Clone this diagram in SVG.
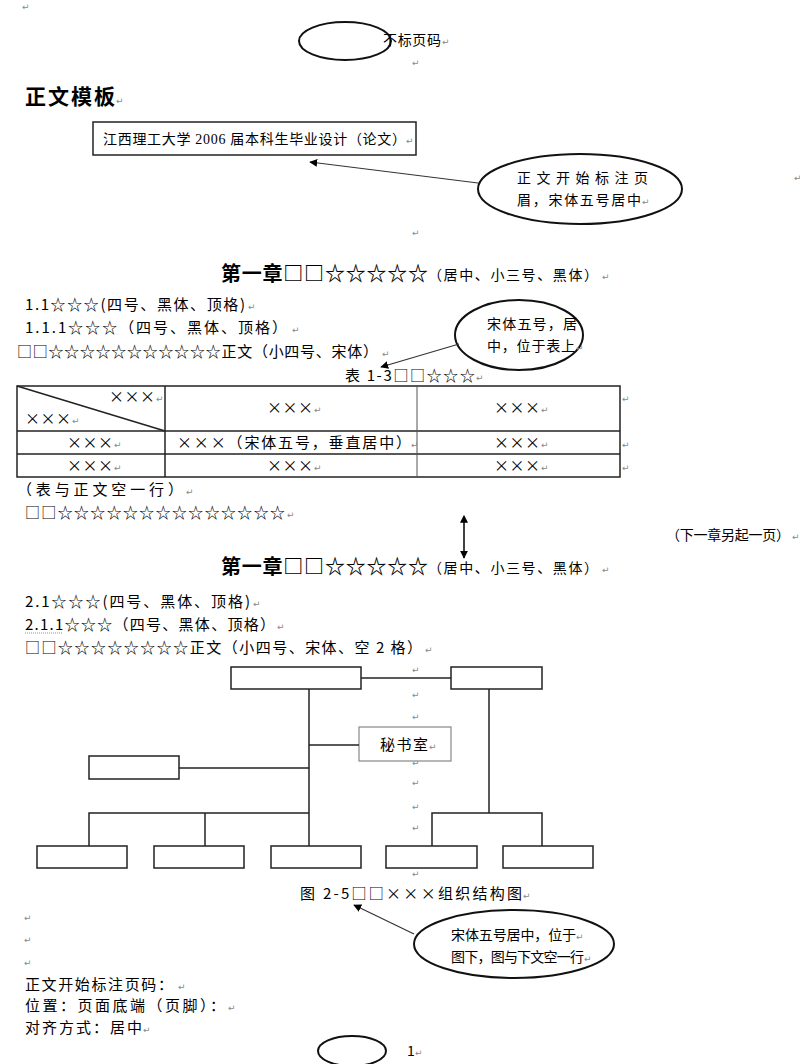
<svg xmlns="http://www.w3.org/2000/svg" width="800" height="1064" viewBox="0 0 800 1064">
<style>
.t{font-family:"Noto Sans CJK SC","Liberation Sans",sans-serif;font-size:15px;fill:#000}
.s{font-family:"Noto Sans CJK SC","Liberation Sans",sans-serif;font-size:14px;fill:#000}
.hd{font-family:"Liberation Serif","Noto Sans CJK SC",serif;font-size:14px;fill:#000}
.x{font-family:"Noto Sans CJK SC","Liberation Sans",sans-serif;font-size:15px;fill:#000}
.h{font-family:"Noto Sans CJK SC",sans-serif;font-weight:bold;fill:#000}
.pm{font-family:"DejaVu Sans",sans-serif;font-size:9px;fill:#888}
.box{fill:#fff;stroke:#222;stroke-width:1.5}
.gbox{fill:#fff;stroke:#888;stroke-width:1.2}
.ell{fill:#fff;stroke:#111;stroke-width:2}
.ln{stroke:#222;stroke-width:1.5;fill:none}
.arr{stroke:#333;stroke-width:1.2;fill:none;marker-end:url(#ah)}
.tb{stroke:#222;stroke-width:1.5;fill:none}
.tc{stroke:#555;stroke-width:1;fill:none}
</style>
<defs>
<marker id="ah" viewBox="0 0 10 10" refX="9" refY="5" markerWidth="8" markerHeight="8" orient="auto" markerUnits="userSpaceOnUse"><path d="M0,0 L10,5 L0,10 z" fill="#000"/></marker>
<marker id="ahs" viewBox="0 0 10 10" refX="1" refY="5" markerWidth="8" markerHeight="8" orient="auto-start-reverse" markerUnits="userSpaceOnUse"><path d="M0,0 L10,5 L0,10 z" fill="#000"/></marker>
</defs>
<rect width="800" height="1064" fill="#fff"/>

<!-- paragraph marks -->
<g id="marks">
<text class="pm" x="22" y="10">↵</text>
<text class="pm" x="412" y="66">↵</text>
<text class="pm" x="412" y="236">↵</text>
<text class="pm" x="794" y="181">↵</text>
<text class="pm" x="412" y="673">↵</text>
<text class="pm" x="412" y="698">↵</text>
<text class="pm" x="412" y="720">↵</text>
<text class="pm" x="412" y="766">↵</text>
<text class="pm" x="412" y="786">↵</text>
<text class="pm" x="412" y="810">↵</text>
<text class="pm" x="412" y="831">↵</text>
<text class="pm" x="412" y="877">↵</text>
<text class="pm" x="24" y="921">↵</text>
<text class="pm" x="24" y="943">↵</text>
<text class="pm" x="24" y="966">↵</text>
</g>

<!-- top: no page number -->
<g id="nopage">
<ellipse class="ell" cx="345" cy="41" rx="46" ry="19"/>
<text class="s" x="383" y="45" textLength="58" lengthAdjust="spacing">不标页码</text>
<text class="pm" x="442" y="45">↵</text>
</g>

<text class="h" x="25" y="104" font-size="21" textLength="90" lengthAdjust="spacing">正文模板</text>
<text class="pm" x="116" y="104">↵</text>

<g id="header-box">
<rect class="box" x="93" y="122" width="323" height="33"/>
<text class="hd" x="103" y="144" textLength="303" lengthAdjust="spacing">江西理工大学 2006 届本科生毕业设计（论文）</text>
<text class="pm" x="406" y="144">↵</text>
</g>

<g id="callout-header">
<ellipse class="ell" cx="580" cy="189" rx="102" ry="35"/>
<text class="s" x="517" y="183" textLength="131" lengthAdjust="spacing">正文开始标注页</text>
<text class="s" x="517" y="205" textLength="124" lengthAdjust="spacing">眉，宋体五号居中</text>
<text class="pm" x="642" y="205">↵</text>
</g>

<!-- chapter 1 -->
<g id="chapter1">
<text class="h" x="221" y="281" font-size="20" textLength="207" lengthAdjust="spacing">第一章□□☆☆☆☆☆</text>
<text class="s" x="428" y="280" font-size="13" textLength="170" lengthAdjust="spacing">（居中、小三号、黑体）</text>
<text class="pm" x="602" y="280">↵</text>
<text class="t" x="25" y="310" textLength="220" lengthAdjust="spacing">1.1☆☆☆(四号、黑体、顶格)</text>
<text class="pm" x="248" y="310">↵</text>
<text class="t" x="25" y="333" textLength="262" lengthAdjust="spacing">1.1.1☆☆☆（四号、黑体、顶格）</text>
<text class="pm" x="292" y="333">↵</text>
<text class="t" x="17" y="357" textLength="361" lengthAdjust="spacing">□□☆☆☆☆☆☆☆☆☆☆☆正文（小四号、宋体）</text>
<text class="pm" x="382" y="357">↵</text>
<text class="t" x="345" y="381" textLength="130" lengthAdjust="spacing">表 1-3□□☆☆☆</text>
<text class="pm" x="476" y="381">↵</text>
</g>

<g id="callout-table">
<ellipse class="ell" cx="519" cy="335" rx="64" ry="35"/>
<text class="s" x="487" y="329" textLength="90" lengthAdjust="spacing">宋体五号，居</text>
<text class="s" x="487" y="351" textLength="88" lengthAdjust="spacing">中，位于表上</text>
<text class="pm" x="576" y="351">↵</text>
</g>

<!-- table -->
<g id="table">
<rect class="tb" x="17" y="386" width="603" height="91"/>
<line class="tb" x1="17" y1="431" x2="620" y2="431" stroke-width="2.5"/>
<line class="tb" x1="17" y1="454" x2="620" y2="454" stroke-width="2.5"/>
<line class="tb" x1="165" y1="386" x2="165" y2="477"/>
<line class="tc" x1="417" y1="386" x2="417" y2="477"/>
<line class="tb" x1="17" y1="386" x2="165" y2="431" stroke-width="1.3"/>
<text class="x" x="109" y="402" textLength="46" lengthAdjust="spacing">×××</text><text class="pm" x="156" y="402">↵</text>
<text class="x" x="25" y="424" textLength="46" lengthAdjust="spacing">×××</text><text class="pm" x="72" y="424">↵</text>
<text class="x" x="267" y="413" textLength="46" lengthAdjust="spacing">×××</text><text class="pm" x="314" y="413">↵</text>
<text class="x" x="494" y="413" textLength="46" lengthAdjust="spacing">×××</text><text class="pm" x="541" y="413">↵</text>
<text class="x" x="67" y="448" textLength="46" lengthAdjust="spacing">×××</text><text class="pm" x="114" y="448">↵</text>
<text class="x" x="177" y="448" textLength="234" lengthAdjust="spacing">×××（宋体五号，垂直居中）</text><text class="pm" x="411" y="448">↵</text>
<text class="x" x="494" y="448" textLength="46" lengthAdjust="spacing">×××</text><text class="pm" x="541" y="448">↵</text>
<text class="x" x="67" y="471" textLength="46" lengthAdjust="spacing">×××</text><text class="pm" x="114" y="471">↵</text>
<text class="x" x="267" y="471" textLength="46" lengthAdjust="spacing">×××</text><text class="pm" x="314" y="471">↵</text>
<text class="x" x="494" y="471" textLength="46" lengthAdjust="spacing">×××</text><text class="pm" x="541" y="471">↵</text>
<text class="pm" x="622" y="402">↵</text>
<text class="pm" x="622" y="448">↵</text>
<text class="pm" x="622" y="471">↵</text>
</g>

<text class="t" x="17" y="495" textLength="166" lengthAdjust="spacing">（表与正文空一行）</text>
<text class="pm" x="186" y="495">↵</text>
<text class="t" x="25" y="518" textLength="260" lengthAdjust="spacing">□□☆☆☆☆☆☆☆☆☆☆☆☆☆☆</text>
<text class="pm" x="287" y="518">↵</text>

<text class="s" x="666" y="540" textLength="124" lengthAdjust="spacing">（下一章另起一页）</text>
<text class="pm" x="792" y="540">↵</text>

<!-- chapter 2 -->
<g id="chapter2">
<text class="h" x="221" y="574" font-size="20" textLength="207" lengthAdjust="spacing">第一章□□☆☆☆☆☆</text>
<text class="s" x="428" y="573" font-size="13" textLength="170" lengthAdjust="spacing">（居中、小三号、黑体）</text>
<text class="pm" x="602" y="573">↵</text>
<text class="t" x="25" y="607" textLength="225" lengthAdjust="spacing">2.1☆☆☆(四号、黑体、顶格)</text>
<text class="pm" x="253" y="607">↵</text>
<text class="t" x="25" y="630" textLength="250" lengthAdjust="spacing">2.1.1☆☆☆（四号、黑体、顶格）</text>
<text class="pm" x="277" y="630">↵</text>
<line x1="25" y1="633" x2="62" y2="633" stroke="#a07ac8" stroke-width="1" stroke-dasharray="1,1"/>
<text class="t" x="25" y="653" textLength="397" lengthAdjust="spacing">□□☆☆☆☆☆☆☆☆正文（小四号、宋体、空 2 格）</text>
<text class="pm" x="425" y="653">↵</text>
</g>

<!-- org chart nodes -->
<g id="org-top-left"><rect class="box" x="231" y="667" width="130" height="22"/></g>
<g id="org-top-right"><rect class="box" x="451" y="667" width="91" height="22"/></g>
<g id="org-secretary"><rect class="gbox" x="359" y="727" width="92" height="34"/>
<text class="t" x="380" y="750" textLength="48" lengthAdjust="spacing">秘书室</text><text class="pm" x="429" y="750">↵</text></g>
<g id="org-left"><rect class="box" x="89" y="756" width="90" height="23"/></g>
<g id="org-b1"><rect class="box" x="37" y="846" width="90" height="22"/></g>
<g id="org-b2"><rect class="box" x="154" y="846" width="90" height="22"/></g>
<g id="org-b3"><rect class="box" x="271" y="846" width="90" height="22"/></g>
<g id="org-b4"><rect class="box" x="386" y="846" width="91" height="22"/></g>
<g id="org-b5"><rect class="box" x="503" y="846" width="90" height="22"/></g>

<text class="t" x="300" y="899" textLength="222" lengthAdjust="spacing">图 2-5□□×××组织结构图</text>
<text class="pm" x="523" y="899">↵</text>

<g id="callout-figure">
<ellipse class="ell" cx="514" cy="944" rx="100" ry="34"/>
<text class="s" x="451" y="940" textLength="125" lengthAdjust="spacing">宋体五号居中，位于</text>
<text class="pm" x="576" y="940">↵</text>
<text class="s" x="451" y="962" textLength="133" lengthAdjust="spacing">图下，图与下文空一行</text>
<text class="pm" x="584" y="962">↵</text>
</g>

<text class="t" x="25" y="990" textLength="148" lengthAdjust="spacing">正文开始标注页码：</text>
<text class="pm" x="178" y="990">↵</text>
<text class="t" x="25" y="1011" textLength="200" lengthAdjust="spacing">位置：页面底端（页脚）：</text>
<text class="pm" x="228" y="1011">↵</text>
<text class="t" x="25" y="1033" textLength="117" lengthAdjust="spacing">对齐方式：居中</text>
<text class="pm" x="143" y="1033">↵</text>

<g id="pagenum">
<ellipse class="ell" cx="352" cy="1051" rx="34" ry="15"/>
<text class="s" x="407" y="1056">1</text>
<text class="pm" x="415" y="1056">↵</text>
</g>

<!-- connectors -->
<g id="connectors">
<line class="arr" x1="478" y1="183" x2="310" y2="162"/>
<line class="arr" x1="459" y1="344" x2="381" y2="367"/>
<line class="arr" x1="414" y1="934" x2="354" y2="905"/>
<line x1="464" y1="522" x2="464" y2="558" stroke="#000" stroke-width="1.5" marker-start="url(#ahs)" marker-end="url(#ah)"/>
<line class="ln" x1="361" y1="678" x2="451" y2="678"/>
<line class="ln" x1="309" y1="689" x2="309" y2="846"/>
<line class="ln" x1="309" y1="745" x2="359" y2="745"/>
<line class="ln" x1="179" y1="768" x2="309" y2="768"/>
<polyline class="ln" points="89,846 89,813 309,813"/>
<line class="ln" x1="205" y1="813" x2="205" y2="846"/>
<line class="ln" x1="489" y1="689" x2="489" y2="813"/>
<polyline class="ln" points="432,846 432,813 542,813 542,846"/>
</g>
</svg>
